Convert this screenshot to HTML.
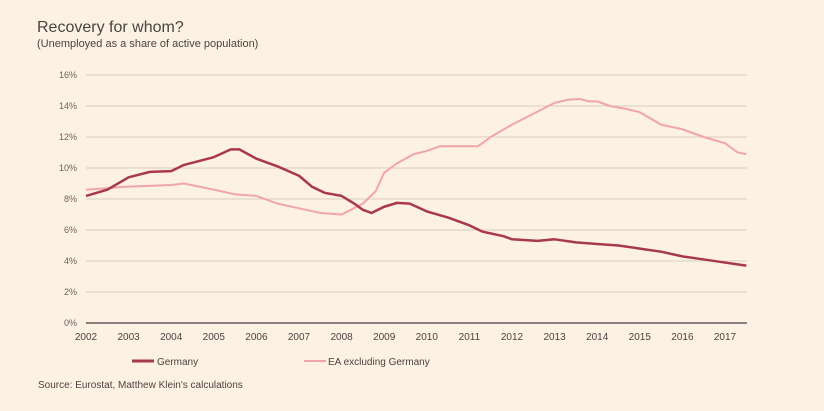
<!DOCTYPE html>
<html><head><meta charset="utf-8"><style>
body{margin:0;background:#fdf1e3;}
svg{display:block;font-family:"Liberation Sans",sans-serif;}
</style></head><body>
<svg width="824" height="411" viewBox="0 0 824 411">
<rect width="824" height="411" fill="#fdf1e3"/>
<text x="37" y="32" font-size="16" fill="#4a4340">Recovery for whom?</text>
<text x="37" y="47" font-size="11" fill="#4a4340">(Unemployed as a share of active population)</text>
<g id="grid"></g><g id="xax"></g><g id="lines"></g>
<line x1="132" y1="361" x2="154" y2="361" stroke="#a8384f" stroke-width="3"/>
<text x="157" y="365" font-size="10" fill="#4a4340">Germany</text>
<line x1="304" y1="361" x2="326" y2="361" stroke="#f0a6a8" stroke-width="2"/>
<text x="328" y="365" font-size="10" fill="#4a4340">EA excluding Germany</text>
<text x="38" y="388" font-size="10" fill="#4a4340">Source: Eurostat, Matthew Klein's calculations</text>
</svg>
<script>
const yTicks=[0,2,4,6,8,10,12,14,16];
const xYears=[2002,2003,2004,2005,2006,2007,2008,2009,2010,2011,2012,2013,2014,2015,2016,2017];
const germanyT=[2002,2002.5,2003,2003.5,2004,2004.3,2005,2005.4,2005.6,2006,2006.5,2007,2007.3,2007.6,2008,2008.3,2008.5,2008.7,2009,2009.3,2009.6,2010,2010.5,2011,2011.3,2011.8,2012,2012.6,2013,2013.5,2014,2014.5,2015,2015.5,2016,2016.5,2017,2017.5];
const germanyV=[8.2,8.6,9.4,9.75,9.8,10.2,10.7,11.2,11.2,10.6,10.1,9.5,8.8,8.4,8.2,7.7,7.3,7.1,7.5,7.75,7.7,7.2,6.8,6.3,5.9,5.6,5.4,5.3,5.4,5.2,5.1,5.0,4.8,4.6,4.3,4.1,3.9,3.7];
const eaT=[2002,2003,2004,2004.3,2005,2005.5,2006,2006.5,2007,2007.5,2008,2008.5,2008.8,2009,2009.3,2009.7,2010,2010.3,2011.2,2011.5,2012,2012.5,2013,2013.3,2013.6,2013.8,2014,2014.3,2014.7,2015,2015.5,2016,2016.5,2017,2017.3,2017.5];
const eaV=[8.6,8.8,8.9,9.0,8.6,8.3,8.2,7.7,7.4,7.1,7.0,7.7,8.5,9.7,10.3,10.9,11.1,11.4,11.4,12.0,12.8,13.5,14.2,14.4,14.45,14.3,14.3,14.0,13.8,13.6,12.8,12.5,12.0,11.6,11.0,10.9];
const NS="http://www.w3.org/2000/svg";
const xS=t=>86+(t-2002)*42.6, yS=v=>323-v*15.5;
function mk(tag,attrs,parent){const e=document.createElementNS(NS,tag);for(const k in attrs)e.setAttribute(k,attrs[k]);document.getElementById(parent).appendChild(e);return e;}
yTicks.forEach(v=>{
 const l=mk('line',{x1:86,x2:747,y1:yS(v),y2:yS(v),stroke:v===0?'#8a8080':'#d9cdc4','stroke-width':v===0?2:1},'grid');
 
 
 const t=mk('text',{x:77,y:yS(v)+3,'text-anchor':'end','font-size':9,fill:'#6b6360'},'grid');
 t.textContent=v+'%';
 
 
});
xYears.forEach(y=>{
 const t=mk('text',{x:xS(y),y:340,'text-anchor':'middle','font-size':10,fill:'#4a4340'},'xax');
 t.textContent=y;
 
 
});
function line(T,V,col,w,name){
 const p=mk('polyline',{points:T.map((t,i)=>xS(t)+','+yS(V[i])).join(' '),fill:'none',stroke:col,'stroke-width':w,'stroke-linejoin':'round'},'lines');
 
 
}
line(eaT,eaV,'#f0a6a8',2,'ea-excluding-germany-line');
line(germanyT,germanyV,'#a8384f',2.5,'germany-line');
</script>
</body></html>
